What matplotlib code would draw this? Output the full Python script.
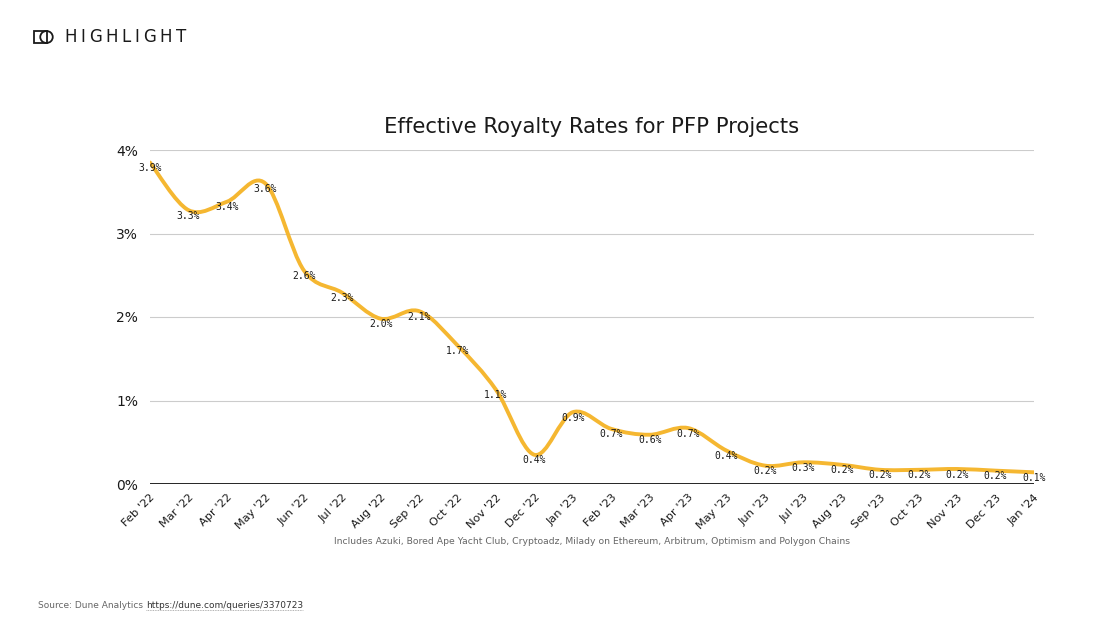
import numpy as np
import matplotlib
matplotlib.use('Agg')
import matplotlib.pyplot as plt
import matplotlib.transforms as mtransforms
from matplotlib.path import Path
from matplotlib.patches import PathPatch, Rectangle, Ellipse
from matplotlib.ticker import FuncFormatter

months = ["Feb '22", "Mar '22", "Apr '22", "May '22", "Jun '22", "Jul '22",
          "Aug '22", "Sep '22", "Oct '22", "Nov '22", "Dec '22", "Jan '23",
          "Feb '23", "Mar '23", "Apr '23", "May '23", "Jun '23", "Jul '23",
          "Aug '23", "Sep '23", "Oct '23", "Nov '23", "Dec '23", "Jan '24"]
royalty = [3.85, 3.28, 3.38, 3.60, 2.56, 2.29, 1.98, 2.07, 1.66, 1.13, 0.35, 0.86,
           0.66, 0.59, 0.67, 0.40, 0.22, 0.26, 0.23, 0.17, 0.17, 0.18, 0.16, 0.14]
point_labels = ['3.9%', '3.3%', '3.4%', '3.6%', '2.6%', '2.3%', '2.0%', '2.1%',
                '1.7%', '1.1%', '0.4%', '0.9%', '0.7%', '0.6%', '0.7%', '0.4%',
                '0.2%', '0.3%', '0.2%', '0.2%', '0.2%', '0.2%', '0.2%', '0.1%']
y_ticks = [0, 1, 2, 3, 4]

LINE_COLOR = '#F5B731'
TEXT_COLOR = '#1a1a1a'
GREY = '#666666'
W, H = 1104, 642


def smooth_path(xs, ys, tension=1.0 / 6):
    """
    Build a bezier path through the points (catmull-rom style).
    """
    pts = np.column_stack([xs, ys]).astype(float)
    verts = [pts[0]]
    codes = [Path.MOVETO]
    n = len(pts)
    for i in range(n - 1):
        p0 = pts[i - 1] if i > 0 else pts[i]
        p1 = pts[i]
        p2 = pts[i + 1]
        p3 = pts[i + 2] if i + 2 < n else pts[i + 1]
        c1 = p1 + (p2 - p0) * tension
        c2 = p2 - (p3 - p1) * tension
        verts += [c1, c2, p2]
        codes += [Path.CURVE4] * 3
    return Path(verts, codes)


def spaced_text(fig, word, x0, x1, y, **kw):
    """
    Write a word letter by letter with an even gap between x0 and x1 (pixels).
    """
    letters = [fig.text(0, y / H, ch, ha='left', va='center', **kw) for ch in word]
    fig.canvas.draw()
    widths = [t.get_window_extent().width for t in letters]
    gap = (x1 - x0 - sum(widths)) / (len(word) - 1)
    pos = x0
    for t, w in zip(letters, widths):
        t.set_x(pos / W)
        pos += w + gap


fig = plt.figure(figsize=(W / 100, H / 100), dpi=100)
ax = fig.add_axes([150 / W, 1 - 484 / H, 884 / W, 334 / H])

x = np.arange(len(months))
ax.add_patch(PathPatch(smooth_path(x, royalty), facecolor='none',
                       edgecolor=LINE_COLOR, lw=2.8, capstyle='round',
                       joinstyle='round', zorder=3))

for xi, yi, lab in zip(x, royalty, point_labels):
    ax.annotate(lab, (xi, yi), xytext=(0, -4), textcoords='offset points',
                ha='center', va='center', fontsize=7,
                family='DejaVu Sans Mono', color=TEXT_COLOR, zorder=4)

ax.set_xlim(0, len(months) - 1)
ax.set_ylim(0, 4)
ax.set_yticks(y_ticks)
ax.yaxis.set_major_formatter(FuncFormatter(lambda v, p: f'{v:.0f}%'))
ax.set_xticks(x)
ax.set_xticklabels(months, rotation=45, ha='right', va='top',
                   rotation_mode='anchor', fontsize=8.2, color=TEXT_COLOR)
# nudge the rotated labels so their ends sit just right of the tick
shift = mtransforms.ScaledTranslation(0.08, -0.02, fig.dpi_scale_trans)
for t in ax.get_xticklabels():
    t.set_transform(t.get_transform() + shift)
ax.tick_params(axis='x', length=0, pad=6)
ax.tick_params(axis='y', length=0, pad=8.5, labelsize=10, labelcolor=TEXT_COLOR)

ax.grid(axis='y', color='#cccccc', lw=0.8, zorder=0)
ax.axhline(0, color='black', lw=1.2, zorder=2)
for s in ax.spines.values():
    s.set_visible(False)

ax.set_title('Effective Royalty Rates for PFP Projects', fontsize=15.2,
             color=TEXT_COLOR, pad=12)

fig.text(592 / W, 1 - 542 / H,
         'Includes Azuki, Bored Ape Yacht Club, Cryptoadz, Milady on Ethereum, '
         'Arbitrum, Optimism and Polygon Chains',
         ha='center', va='center', fontsize=6.65, color=GREY)

src = fig.text(38 / W, 1 - 606 / H, 'Source: Dune Analytics ',
               ha='left', va='center', fontsize=6.5, color=GREY)
fig.canvas.draw()
bb = src.get_window_extent()
url = fig.text(bb.x1 / W, 1 - 606 / H, 'https://dune.com/queries/3370723',
               ha='left', va='center', fontsize=6.5, color='#333333')
bb2 = url.get_window_extent()
fig.add_artist(plt.Line2D([bb2.x0 / W, bb2.x1 / W],
                          [(bb2.y0 + 1) / H, (bb2.y0 + 1) / H],
                          color='#999999', lw=0.6, ls=(0, (1, 1))))

# logo
fig.add_artist(Rectangle((34 / W, 1 - 43 / H), 13 / W, 12 / H,
                         fill=False, ec=TEXT_COLOR, lw=1.3))
fig.add_artist(Ellipse((46.5 / W, 1 - 37 / H), 12.5 / W, 12 / H, fill=False,
                       ec=TEXT_COLOR, lw=1.3))
spaced_text(fig, 'HIGHLIGHT', 64, 186, H - 37, fontsize=12, color=TEXT_COLOR)

fig.savefig('out.png', dpi=100, facecolor='white')
